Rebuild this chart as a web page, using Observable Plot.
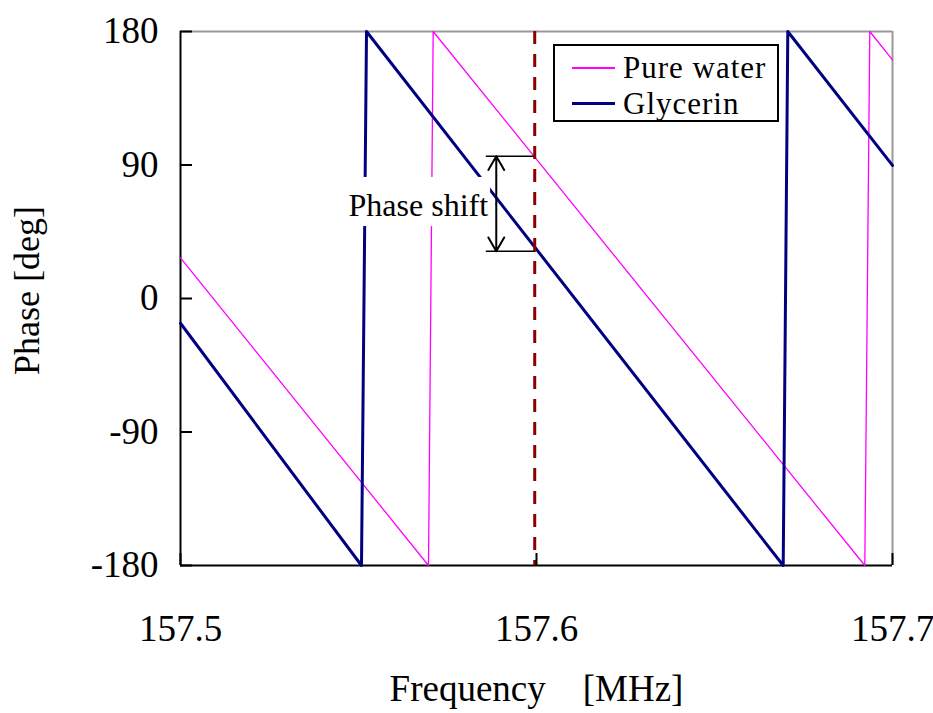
<!DOCTYPE html>
<html>
<head>
<meta charset="utf-8">
<script src="https://cdn.jsdelivr.net/npm/d3@7"></script>
<script src="https://cdn.jsdelivr.net/npm/@observablehq/plot@0.6"></script>
<style>
  html, body { margin: 0; padding: 0; background: white; }
  #wrap { position: relative; width: 933px; height: 713px; font-family: "Liberation Serif", "Times New Roman", serif; }
  #legend { position: absolute; left: 553px; top: 44px; width: 222px; height: 74px; border: 2px solid black; background: white; }
  .item { position: absolute; left: 17px; display: flex; align-items: center; font-size: 31px; letter-spacing: 1px; height: 36px; }
  .item span { display: block; line-height: 36px; height: 36px; }
  .swatch { width: 43px; margin-right: 8px; }
</style>
</head>
<body>
<div id="wrap"></div>
<script>
// ---- data ----
const seriesNames = ["Pure water", "Glycerin"];
const seriesColors = ["#FF00FF", "#000080"];
const pureWaterFreq  = [157.5, 157.56966, 157.57098, 157.69222, 157.69362, 157.7];
const pureWaterPhase = [27.4, -180, 180, -180, 180, 160.9];
const glycerinFreq   = [157.5, 157.55084, 157.55225, 157.6693, 157.67059, 157.7];
const glycerinPhase  = [-16.7, -180, 180, -180, 180, 89.7];
const xTicks = [157.5, 157.6, 157.7];
const xTickLabels = ["157.5", "157.6", "157.7"];
const yTicks = [-180, -90, 0, 90, 180];
const yTickLabels = ["-180", "-90", "0", "90", "180"];
const markerFreq = 157.5995;
const shiftFreqRange = [157.5859, 157.5999];
const shiftPhases = [95.9, 31.9];
const arrowFreq = 157.5887;
const shiftLabel = "Phase shift";
const labelFreq = 157.5668, labelPhase = 62.4;
const labelBox = {x1: 157.5463, x2: 157.5871, y1: 48.5, y2: 81.6};
const xLabel = "Frequency\u00a0\u00a0\u00a0 [MHz]";
const yLabel = "Phase [deg]";

// ---- build tables ----
const pureWater = pureWaterFreq.map((f, i) => ({f, p: pureWaterPhase[i]}));
const glycerin = glycerinFreq.map((f, i) => ({f, p: glycerinPhase[i]}));
const midPhase = (shiftPhases[0] + shiftPhases[1]) / 2;
const arrows = shiftPhases.map(p => ({x1: arrowFreq, y1: midPhase, x2: arrowFreq, y2: p}));

const chart = Plot.plot({
  width: 933, height: 713,
  marginLeft: 180, marginRight: 41, marginTop: 31, marginBottom: 148,
  x: {domain: [157.5, 157.7]},
  y: {domain: [-180, 180]},
  style: {fontFamily: "Liberation Serif, Times New Roman, serif", fontSize: "36px", background: "white", color: "black", overflow: "visible"},
  marks: [
    Plot.ruleX([157.7], {stroke: "#999", strokeWidth: 2}),
    Plot.ruleY([180], {stroke: "#999", strokeWidth: 2}),
    Plot.ruleX([157.5], {stroke: "black", strokeWidth: 2}),
    Plot.ruleY([-180], {stroke: "black", strokeWidth: 2}),
    Plot.line(pureWater, {x: "f", y: "p", stroke: seriesColors[0], strokeWidth: 1.3}),
    Plot.line(glycerin, {x: "f", y: "p", stroke: seriesColors[1], strokeWidth: 3}),
    Plot.rect([labelBox], {x1: "x1", x2: "x2", y1: "y1", y2: "y2", fill: "white"}),
    Plot.text([shiftLabel], {x: labelFreq, y: labelPhase, text: d => d, fontSize: 32, textAnchor: "middle", lineAnchor: "middle", fill: "black"}),
    Plot.ruleY(shiftPhases, {x1: shiftFreqRange[0], x2: shiftFreqRange[1], stroke: "black", strokeWidth: 1.5}),
    Plot.arrow(arrows, {x1: "x1", y1: "y1", x2: "x2", y2: "y2", bend: 0, headLength: 12, headAngle: 60, stroke: "black", strokeWidth: 2}),
    Plot.ruleX([markerFreq], {stroke: "#8B0000", strokeWidth: 3, strokeDasharray: "13,10"}),
    Plot.axisY(yTicks, {tickSize: -12, tickPadding: 34, strokeWidth: 2, tickFormat: d => yTickLabels[yTicks.indexOf(d)], label: null, fontSize: 37}),
    Plot.axisX(xTicks, {tickSize: -12, tickPadding: 61, strokeWidth: 2, tickFormat: d => xTickLabels[xTicks.indexOf(d)], label: null, fontSize: 37}),
    Plot.text([xLabel], {frameAnchor: "bottom", dy: 124, text: d => d, textAnchor: "middle", lineAnchor: "middle", fontSize: 37, fill: "black"}),
    Plot.text([yLabel], {frameAnchor: "left", dx: -153, dy: -8, rotate: -90, text: d => d, textAnchor: "middle", lineAnchor: "middle", fontSize: 36, fill: "black"})
  ]
});

const wrap = document.getElementById("wrap");
wrap.appendChild(chart);

const legend = document.createElement("div");
legend.id = "legend";
seriesNames.forEach((name, i) => {
  const item = document.createElement("div");
  item.className = "item";
  item.style.top = (i === 0 ? 3.5 : 39.5) + "px";
  const sw = document.createElement("div");
  sw.className = "swatch";
  sw.style.height = "0px";
  sw.style.borderTop = (i === 0 ? 2 : 3) + "px solid " + seriesColors[i];
  const t = document.createElement("span");
  t.textContent = name;
  item.appendChild(sw);
  item.appendChild(t);
  legend.appendChild(item);
});
wrap.appendChild(legend);
</script>
</body>
</html>
